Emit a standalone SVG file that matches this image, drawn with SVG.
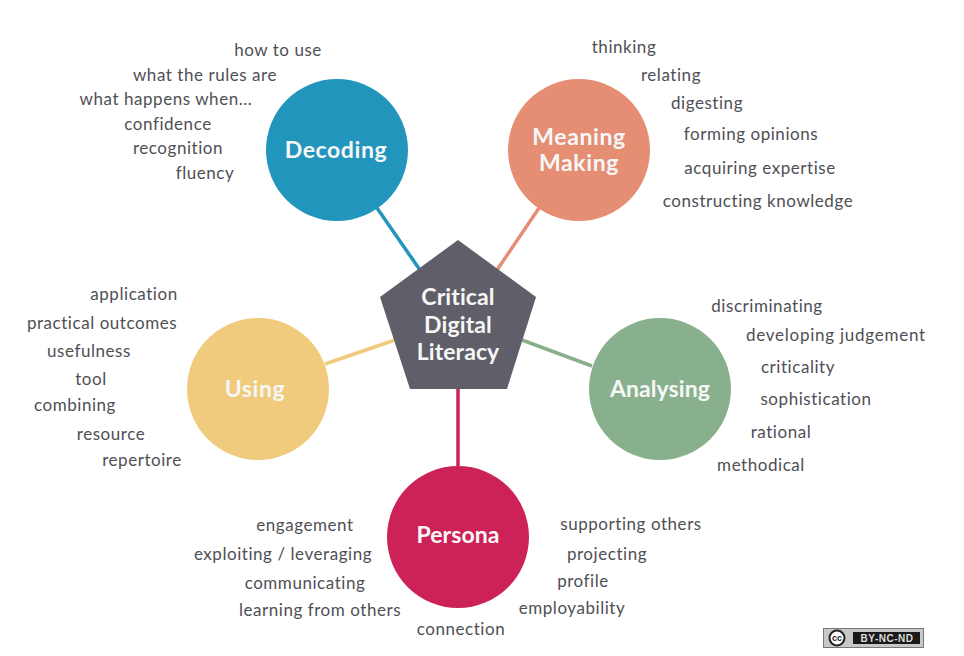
<svg xmlns="http://www.w3.org/2000/svg" width="964" height="656" viewBox="0 0 964 656">
<style>
.l{font:17px "Lato","Liberation Sans",sans-serif;letter-spacing:.55px;fill:#4f4f55;text-anchor:middle}
.n{font:bold 23px "Lato","Liberation Sans",sans-serif;letter-spacing:.6px;fill:#f7f7f7;text-anchor:middle}
.t{letter-spacing:.1px}
.c{fill:none;stroke-width:3.5}
</style>
<rect width="964" height="656" fill="#fff"/>
<g id="connectors">
<path class="c" stroke="#2295bd" d="M377 208L420 270"/>
<path class="c" stroke="#e58e74" d="M539 208L497 270"/>
<path class="c" stroke="#f0cb7d" d="M325 364L395 340"/>
<path class="c" stroke="#89b08d" d="M592 366L522 340"/>
<path class="c" stroke="#cd2257" d="M458 466V385"/>
</g>
<g id="center"><polygon points="458,240 536,297 507,389 410,389 380,297" fill="#605e68"/>
<text class="n t" x="458" y="305">Critical</text><text class="n t" x="458" y="333">Digital</text><text class="n t" x="458" y="360">Literacy</text></g>
<g id="decoding"><circle cx="337" cy="150" r="71" fill="#2295bd"/><text class="n" x="336" y="158">Decoding</text></g>
<g id="meaning"><circle cx="579" cy="150" r="71" fill="#e58e74"/><text class="n" x="579" y="145">Meaning</text><text class="n" x="579" y="171">Making</text></g>
<g id="using"><circle cx="258" cy="389" r="71" fill="#f0cb7d"/><text class="n" x="255" y="397">Using</text></g>
<g id="analysing"><circle cx="660" cy="389" r="71" fill="#89b08d"/><text class="n t" x="660" y="397">Analysing</text></g>
<g id="persona"><circle cx="458" cy="537" r="71" fill="#cd2257"/><text class="n t" x="458" y="543">Persona</text></g>
<g id="labels">
<text class="l" x="278" y="56">how to use</text>
<text class="l" x="205" y="81">what the rules are</text>
<text class="l" x="166" y="105">what happens when...</text>
<text class="l" x="168" y="130">confidence</text>
<text class="l" x="178" y="154">recognition</text>
<text class="l" x="205" y="179">fluency</text>
<text class="l" x="624" y="53">thinking</text>
<text class="l" x="671" y="81">relating</text>
<text class="l" x="707" y="109">digesting</text>
<text class="l" x="751" y="140">forming opinions</text>
<text class="l" x="760" y="174">acquiring expertise</text>
<text class="l" x="758" y="207">constructing knowledge</text>
<text class="l" x="134" y="300">application</text>
<text class="l" x="102" y="329">practical outcomes</text>
<text class="l" x="89" y="357">usefulness</text>
<text class="l" x="91" y="385">tool</text>
<text class="l" x="75" y="411">combining</text>
<text class="l" x="111" y="440">resource</text>
<text class="l" x="142" y="466">repertoire</text>
<text class="l" x="767" y="312">discriminating</text>
<text class="l" x="836" y="341" style="letter-spacing:.75px">developing judgement</text>
<text class="l" x="798" y="373">criticality</text>
<text class="l" x="816" y="405">sophistication</text>
<text class="l" x="781" y="438">rational</text>
<text class="l" x="761" y="471">methodical</text>
<text class="l" x="305" y="531">engagement</text>
<text class="l" x="283" y="560">exploiting / leveraging</text>
<text class="l" x="305" y="589">communicating</text>
<text class="l" x="320" y="616">learning from others</text>
<text class="l" x="631" y="530">supporting others</text>
<text class="l" x="607" y="560">projecting</text>
<text class="l" x="583" y="587">profile</text>
<text class="l" x="572" y="614">employability</text>
<text class="l" x="461" y="635">connection</text>
</g>
<g id="badge"><rect x="823.5" y="628.5" width="100" height="19" fill="#c8c8c8" stroke="#777"/><rect x="853" y="632" width="67" height="12" fill="#1a1a1a"/><circle cx="837" cy="638" r="7.5" fill="#fff" stroke="#222" stroke-width="2"/><text x="837" y="641" font-family="Liberation Sans, sans-serif" font-size="9" font-weight="bold" text-anchor="middle" fill="#222">cc</text><text x="887" y="642" font-family="Liberation Sans, sans-serif" font-size="10" font-weight="bold" letter-spacing=".5" text-anchor="middle" fill="#ddd">BY-NC-ND</text></g>
</svg>
